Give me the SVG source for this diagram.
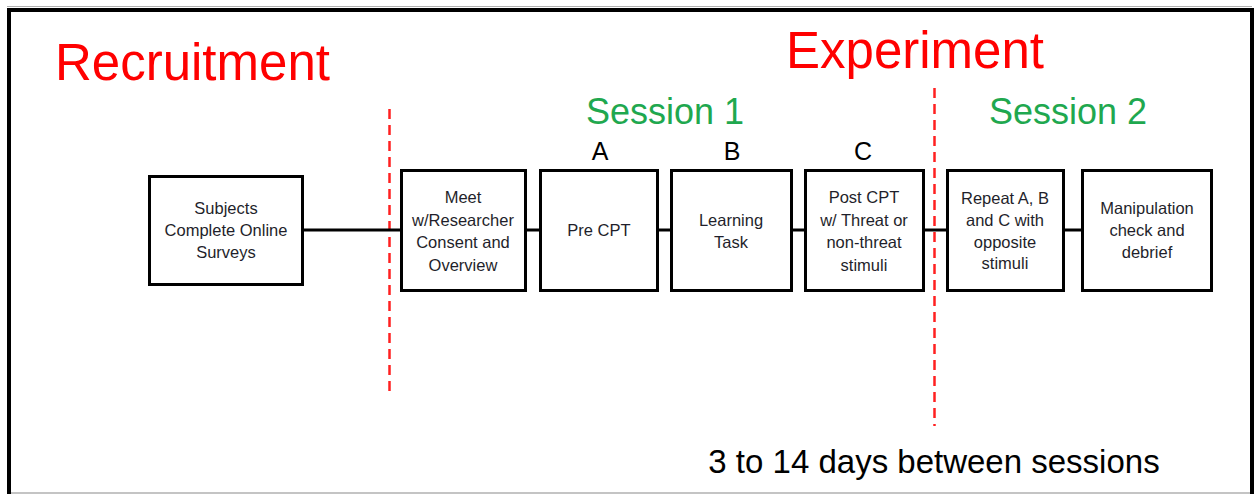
<svg xmlns="http://www.w3.org/2000/svg" width="1256" height="494" viewBox="0 0 1256 494">
<style>
.box{fill:#fff;stroke:#000;stroke-width:3}
.lbl{font-family:"Liberation Sans",Arial,sans-serif;font-size:16.5px;fill:#1f1f2b;text-anchor:middle}
.title{font-family:"Liberation Sans",Arial,sans-serif;font-size:51px;fill:#ff0000}
.sess{font-family:"Liberation Sans",Arial,sans-serif;font-size:36px;fill:#1fa84f}
.abc{font-family:"Liberation Sans",Arial,sans-serif;font-size:25px;fill:#000;text-anchor:middle}
.conn{stroke:#000;stroke-width:3;fill:none}
.div{stroke:#ff2020;stroke-width:2.5;stroke-dasharray:10 6;fill:none}
</style>
<rect x="0" y="0" width="1256" height="494" fill="#fff"/>
<g id="frame">
<line x1="7" y1="6.5" x2="1252" y2="6.5" stroke="#b0b0b0" stroke-width="1"/>
<line x1="9" y1="493" x2="1252" y2="493" stroke="#b0b0b0" stroke-width="1.5"/>
<path d="M9 494 V10 H1252 V494" fill="none" stroke="#000" stroke-width="4"/>
</g>
<g id="titles">
<text class="title" x="55" y="80">Recruitment</text>
<text class="title" x="786" y="68">Experiment</text>
<text class="sess" x="665" y="124" text-anchor="middle">Session 1</text>
<text class="sess" x="1068" y="124" text-anchor="middle">Session 2</text>
<text class="abc" x="600" y="160">A</text>
<text class="abc" x="732" y="160">B</text>
<text class="abc" x="863" y="160">C</text>
<text x="934" y="473" text-anchor="middle" font-family="'Liberation Sans',Arial,sans-serif" font-size="33" fill="#000">3 to 14 days between sessions</text>
</g>
<g id="dividers">
<line class="div" x1="389.5" y1="109" x2="389.5" y2="397"/>
<line class="div" x1="934.5" y1="88" x2="934.5" y2="426"/>
</g>
<g id="connectors">
<line class="conn" x1="304" y1="230" x2="401" y2="230"/>
<line class="conn" x1="526" y1="230" x2="541" y2="230"/>
<line class="conn" x1="657" y1="230" x2="672" y2="230"/>
<line class="conn" x1="791" y1="230" x2="806" y2="230"/>
<line class="conn" x1="923" y1="230" x2="948" y2="230"/>
<line class="conn" x1="1063" y1="230" x2="1083" y2="230"/>
</g>
<g id="n-subjects">
<rect class="box" x="149.5" y="176.5" width="153" height="108"/>
<text class="lbl" x="226" y="214">Subjects</text>
<text class="lbl" x="226" y="236">Complete Online</text>
<text class="lbl" x="226" y="258">Surveys</text>
</g>
<g id="n-meet">
<rect class="box" x="401.5" y="170.5" width="124" height="120"/>
<text class="lbl" x="463" y="203">Meet</text>
<text class="lbl" x="463" y="226">w/Researcher</text>
<text class="lbl" x="463" y="248">Consent and</text>
<text class="lbl" x="463" y="271">Overview</text>
</g>
<g id="n-pre">
<rect class="box" x="540.5" y="170.5" width="117" height="120"/>
<text class="lbl" x="599" y="236">Pre CPT</text>
</g>
<g id="n-learning">
<rect class="box" x="671.5" y="170.5" width="120" height="120"/>
<text class="lbl" x="731" y="226">Learning</text>
<text class="lbl" x="731" y="248">Task</text>
</g>
<g id="n-post">
<rect class="box" x="805.5" y="170.5" width="118" height="120"/>
<text class="lbl" x="864" y="203">Post CPT</text>
<text class="lbl" x="864" y="226">w/ Threat or</text>
<text class="lbl" x="864" y="248">non-threat</text>
<text class="lbl" x="864" y="271">stimuli</text>
</g>
<g id="n-repeat">
<rect class="box" x="947.5" y="170.5" width="116" height="120"/>
<text class="lbl" x="1005" y="204">Repeat A, B</text>
<text class="lbl" x="1005" y="226">and C with</text>
<text class="lbl" x="1005" y="248">opposite</text>
<text class="lbl" x="1005" y="269">stimuli</text>
</g>
<g id="n-manip">
<rect class="box" x="1082.5" y="170.5" width="129" height="120"/>
<text class="lbl" x="1147" y="214">Manipulation</text>
<text class="lbl" x="1147" y="236">check and</text>
<text class="lbl" x="1147" y="258">debrief</text>
</g>
</svg>
